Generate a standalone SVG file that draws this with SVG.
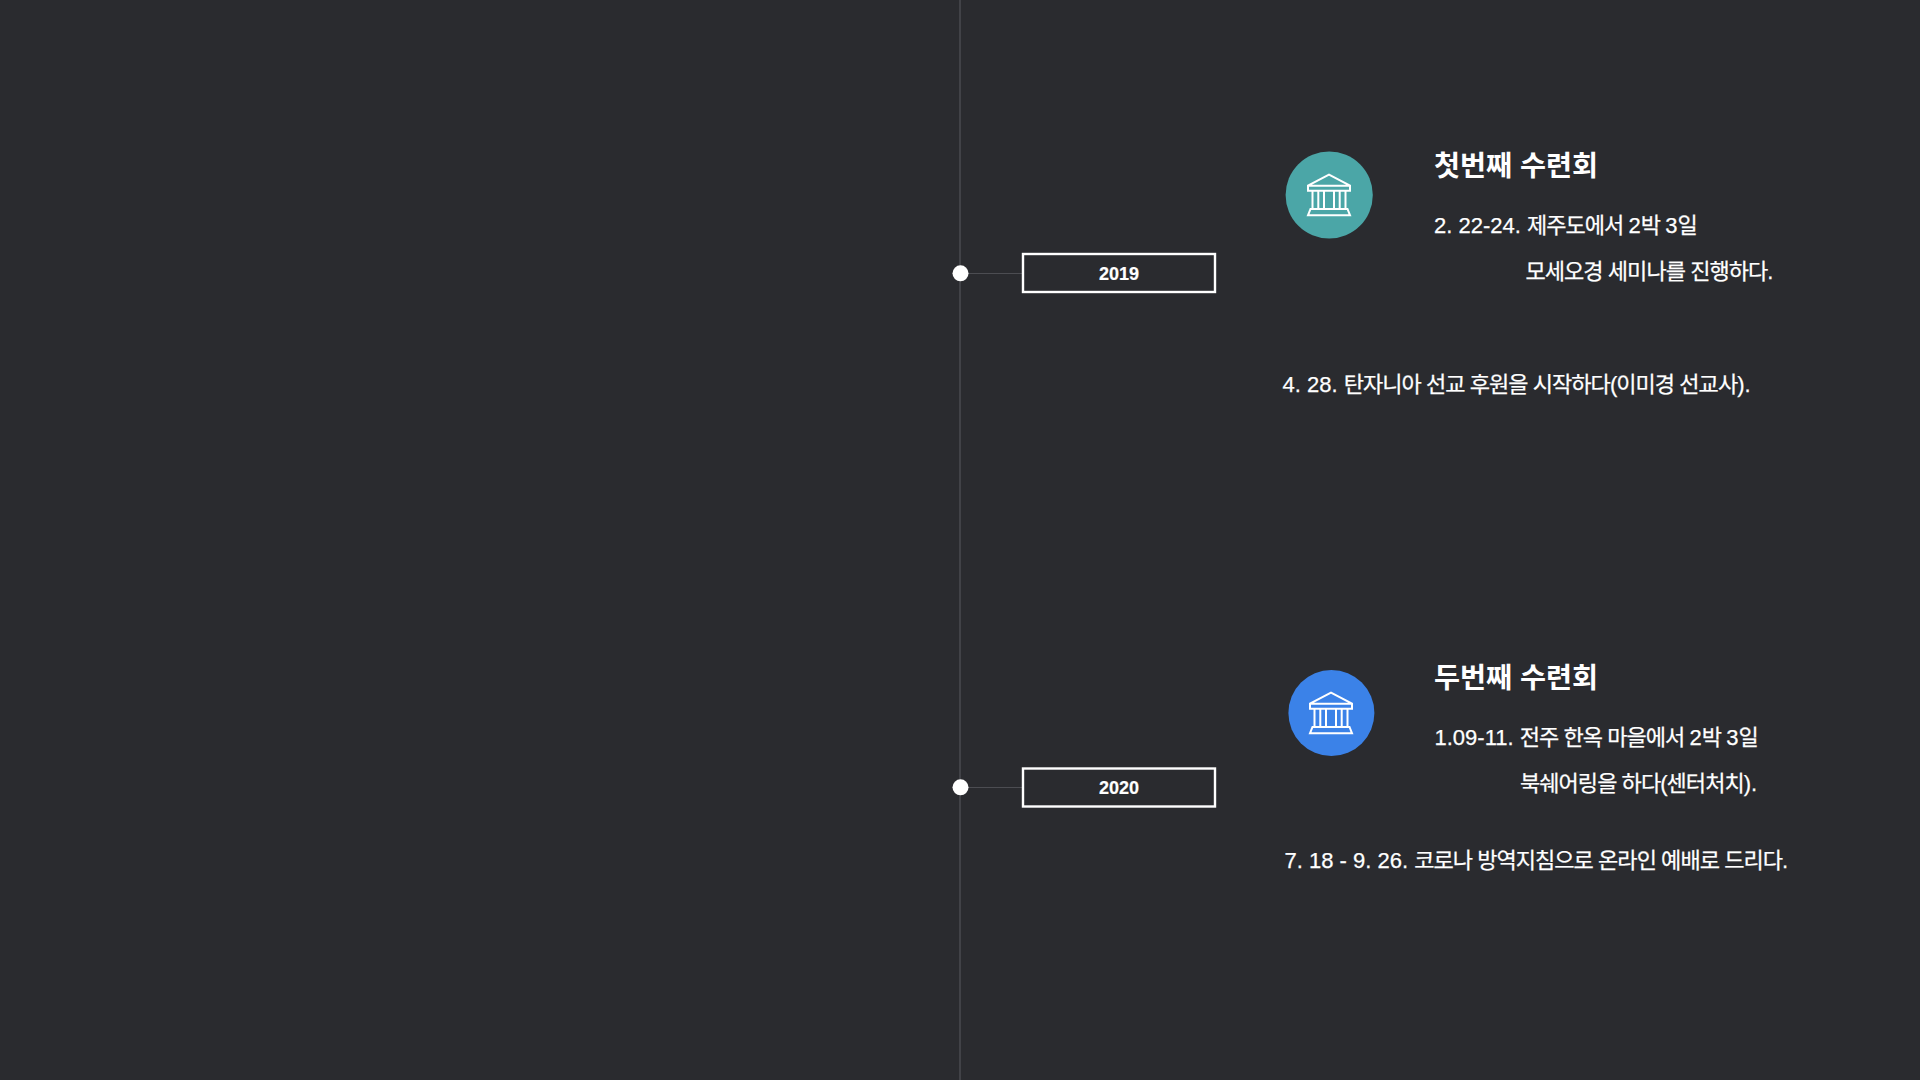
<svg xmlns="http://www.w3.org/2000/svg" width="1920" height="1080" viewBox="0 0 1920 1080">
<style>
text{font-family:"Liberation Sans","Noto Sans CJK KR",sans-serif;fill:#fff}
.t{font-size:28.3px;font-weight:700}
.b{font-size:22px;font-weight:400;stroke:#fff;stroke-width:.25}
.h{letter-spacing:-.95px}
.y{font-size:18px;font-weight:700;text-anchor:middle;stroke:#fff;stroke-width:.2}
.box{fill:#2a2b2f;stroke:#fff;stroke-width:2.4}
.ln{stroke:#4c4d52;fill:none}
.ic{fill:none;stroke:#fff;stroke-width:2;stroke-linejoin:miter}
</style>
<defs>
<g id="bank">
<path class="ic" d="M0-20.3 L-21-9.3 V-4.3 H21 V-9.3 Z M-21-9.3 H21"/>
<path class="ic" d="M-16.5-4.3 V14 M-10.7-4.3 V14 M-5-4.3 V14 M5-4.3 V14 M10.7-4.3 V14 M16.5-4.3 V14"/>
<path class="ic" d="M-18.5 14 H18.5 L21 20.3 H-21 Z"/>
</g>
</defs>
<rect width="1920" height="1080" fill="#2a2b2f"/>
<g id="connectors">
<line class="ln" x1="960" y1="0" x2="960" y2="1080" stroke-width="1.4"/>
<line class="ln" x1="960" y1="273.5" x2="1022" y2="273.5"/>
<line class="ln" x1="960" y1="787.5" x2="1022" y2="787.5"/>
</g>
<g id="dot-2019"><circle cx="960.5" cy="273.3" r="8" fill="#fff"/></g>
<g id="dot-2020"><circle cx="960.5" cy="787.3" r="8" fill="#fff"/></g>
<g id="year-2019"><rect class="box" x="1023" y="254" width="192" height="38"/><text class="y" x="1119" y="280">2019</text></g>
<g id="year-2020"><rect class="box" x="1023" y="768.5" width="192" height="38"/><text class="y" x="1119" y="794.3">2020</text></g>
<g id="event-1">
<circle cx="1329.2" cy="195" r="43.6" fill="#4ba6a7"/>
<use href="#bank" x="1329" y="195"/>
<text class="t" x="1434" y="176">첫번째 수련회</text>
<text class="b" x="1434" y="233">2. 22-24. <tspan class="h">제주도에서 </tspan>2<tspan class="h">박 </tspan>3<tspan class="h">일</tspan></text>
<text class="b" x="1525.5" y="279"><tspan class="h">모세오경 세미나를 진행하다</tspan>.</text>
<text class="b" x="1282.5" y="391.5">4. 28. <tspan class="h">탄자니아 선교 후원을 시작하다(이미경 선교사</tspan>).</text>
</g>
<g id="event-2">
<circle cx="1331.4" cy="713" r="43" fill="#3b82e8"/>
<use href="#bank" x="1331" y="713"/>
<text class="t" x="1434" y="688">두번째 수련회</text>
<text class="b" x="1434.5" y="745">1.09-11. <tspan class="h">전주 한옥 마을에서 </tspan>2<tspan class="h">박 </tspan>3<tspan class="h">일</tspan></text>
<text class="b" x="1520" y="791"><tspan class="h">북쉐어링을 하다(센터처치</tspan>).</text>
<text class="b" x="1284.5" y="868">7. 18 - 9. 26. <tspan class="h">코로나 방역지침으로 온라인 예배로 드리다</tspan>.</text>
</g>
</svg>
